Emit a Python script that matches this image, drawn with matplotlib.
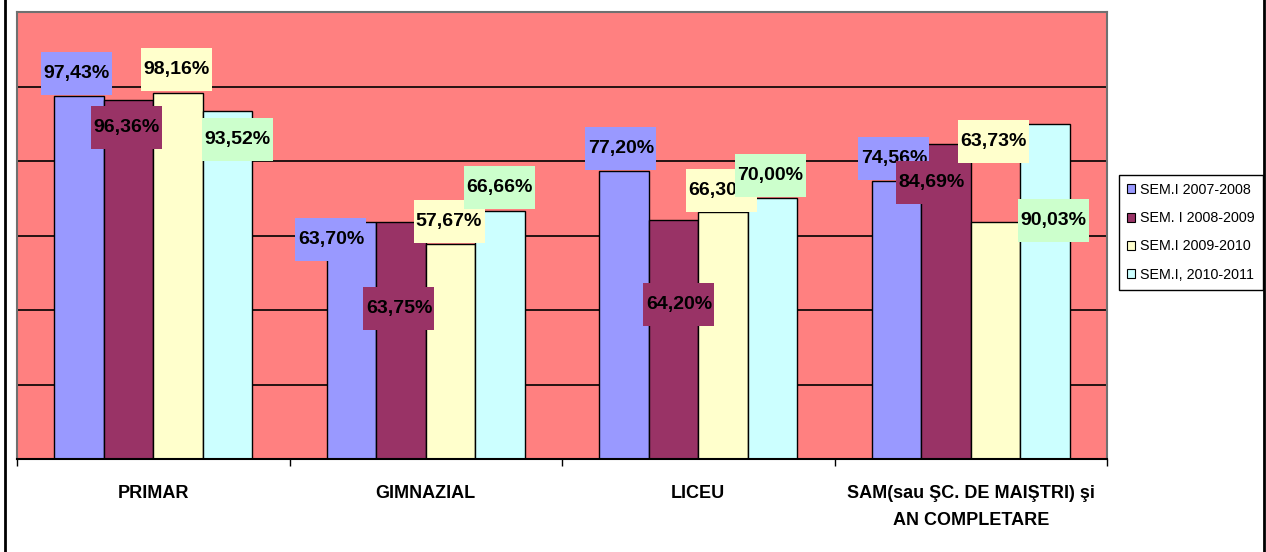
import matplotlib
matplotlib.use("Agg")
import matplotlib.pyplot as plt
import numpy as np
from matplotlib.patches import Rectangle, Patch
from matplotlib.transforms import Affine2D, ScaledTranslation
from matplotlib.lines import Line2D

plt.rcParams['font.family'] = ['Liberation Sans', 'DejaVu Sans']

# ---- data ----
categories = ["PRIMAR", "GIMNAZIAL", "LICEU", "SAM(sau ŞC. DE MAIŞTRI) şi\nAN COMPLETARE"]
series_names = ["SEM.I 2007-2008", "SEM. I 2008-2009", "SEM.I 2009-2010", "SEM.I, 2010-2011"]
sem_2007_2008 = [97.43, 63.70, 77.20, 74.56]
sem_2008_2009 = [96.36, 63.75, 64.20, 84.69]
sem_2009_2010 = [98.16, 57.67, 66.30, 63.73]
sem_2010_2011 = [93.52, 66.66, 70.00, 90.03]
series_values = [sem_2007_2008, sem_2008_2009, sem_2009_2010, sem_2010_2011]

# ---- style ----
bar_colors = ["#9999FF", "#993366", "#FFFFCC", "#CCFFFF"]
label_bg = ["#9999FF", "#993366", "#FFFFCC", "#CCFFCC"]
plot_bg = "#FF8080"
# label offsets (pixels) from the top-centre of each bar, [series][category]
label_offsets = [
    [(-2, 23), (-20.5, -17.3), (-3, 23.4), (-2.5, 22.3)],
    [(-1.5, -27), (-2, -86.5), (5.5, -85), (-14, -38.5)],
    [(-2, 23.4), (-1.5, 23), (-2, 22), (-2.5, 80.6)],
    [(9.5, -28.4), (-1, 22.7), (-2.5, 23), (8, -96.4)],
]

W, H = 1266, 552
fig = plt.figure(figsize=(W / 100, H / 100), dpi=100)
fig.patch.set_facecolor("white")
ax = fig.add_axes([17 / W, (H - 459) / H, (1107 - 17) / W, (459 - 12) / H])
ax.set_facecolor(plot_bg)

n_series = len(series_values)
bar_w = 1.0 / (n_series + 1.5)
x = np.arange(len(categories))

ax.set_xlim(-0.5, len(categories) - 0.5)
ax.set_ylim(0, 120)
ax.set_yticks([20, 40, 60, 80, 100])
ax.yaxis.grid(True, color="black", linewidth=1.2)
ax.set_axisbelow(True)
ax.tick_params(axis="y", left=False, labelleft=False)

for j, vals in enumerate(series_values):
    pos = x + (j - (n_series - 1) / 2) * bar_w
    ax.bar(pos, vals, width=bar_w, color=bar_colors[j], edgecolor="black",
           linewidth=1.0, zorder=2, label=series_names[j])

ax.set_xlim(-0.5, len(categories) - 0.5)
ax.set_ylim(0, 120)

for j, vals in enumerate(series_values):
    pos = x + (j - (n_series - 1) / 2) * bar_w
    for i, v in enumerate(vals):
        dx, dy = label_offsets[j][i]
        tr = Affine2D().translate(dx, dy) + ScaledTranslation(pos[i], v, ax.transData)
        rect = Rectangle((-35.5, -21.5), 71, 43, transform=tr, facecolor=label_bg[j],
                         edgecolor="none", zorder=5 + 2 * j, clip_on=False)
        ax.add_artist(rect)
        txt = f"{v:.2f}".replace(".", ",") + "%"
        ax.annotate(txt, xy=(pos[i], v), xytext=(dx, dy), textcoords="offset pixels",
                    ha="center", va="center", fontsize=14, fontweight="bold",
                    color="black", zorder=6 + 2 * j, annotation_clip=False)

ax.set_xlim(-0.5, len(categories) - 0.5)
ax.set_ylim(0, 120)

# x axis
ax.set_xticks(x)
ax.set_xticklabels(categories, fontsize=13, fontweight="bold", linespacing=1.75)
ax.tick_params(axis="x", which="major", length=0, pad=19)
ax.set_xticks(np.arange(len(categories) + 1) - 0.5, minor=True)
ax.tick_params(axis="x", which="minor", length=5, width=1.0, color="black", direction="out")

for s in ["top", "left", "right"]:
    ax.spines[s].set_color("#707070")
    ax.spines[s].set_linewidth(1.5)
ax.spines["bottom"].set_color("black")
ax.spines["bottom"].set_linewidth(1.5)

handles = [Patch(facecolor=bar_colors[j], edgecolor="black", linewidth=0.8) for j in range(n_series)]
leg = fig.legend(handles, series_names, loc="upper left",
                 bbox_to_anchor=(1119 / W, 1 - 175 / H), fontsize=10.3,
                 frameon=True, fancybox=False, edgecolor="black", framealpha=1,
                 handlelength=0.6, handleheight=0.6, handletextpad=0.35,
                 labelspacing=1.0, borderpad=0.55, borderaxespad=0)
leg.get_frame().set_linewidth(1.0)

# outer border lines
fig.add_artist(Line2D([5 / W, 5 / W], [0, 1], transform=fig.transFigure, color="black", linewidth=2))
fig.add_artist(Line2D([1264 / W, 1264 / W], [0, 1], transform=fig.transFigure, color="black", linewidth=2))

fig.savefig("out.png", dpi=100)
